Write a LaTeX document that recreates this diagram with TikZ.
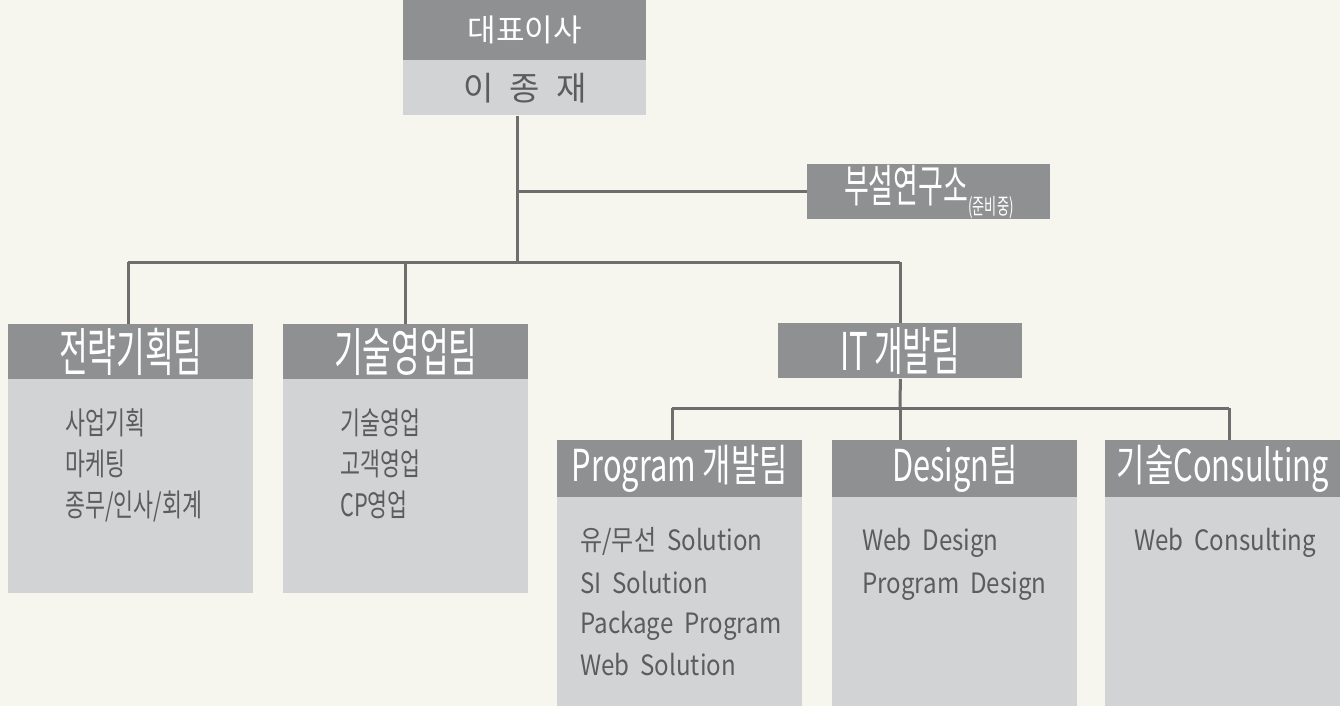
\documentclass[tikz,border=0pt]{standalone}
\usepackage{fontspec}
\newfontfamily\nk{Noto Sans CJK KR}
\newfontfamily\ck[FakeStretch=0.6]{Noto Sans CJK KR}
\newfontfamily\hk[FakeStretch=0.7]{Noto Sans CJK KR}
\newfontfamily\mk[FakeStretch=0.7]{Noto Sans CJK KR}
\newfontfamily\ek[FakeStretch=0.86,WordSpace=2]{Noto Sans CJK KR}
\definecolor{bg}{HTML}{F6F5EE}
\definecolor{hdrgray}{HTML}{8F9092}
\definecolor{bodygray}{HTML}{D2D3D5}
\definecolor{linegray}{HTML}{6E6E6E}
\definecolor{txtgray}{HTML}{5C5C5C}
\tikzset{
  hdrbox/.style={fill=hdrgray, draw=none, inner sep=0pt, anchor=north west, text=white},
  bodybox/.style={fill=bodygray, draw=none, inner sep=0pt, anchor=north west},
  conn/.style={draw=linegray, line width=1.5pt},
  teamtext/.style={font=\ck\fontsize{26pt}{26pt}\selectfont},
  subtext/.style={font=\hk\fontsize{22pt}{22pt}\selectfont},
  kline/.style={anchor=base west, inner sep=0pt, text=txtgray, font=\mk\fontsize{15.5pt}{15.5pt}\selectfont},
  eline/.style={anchor=base west, inner sep=0pt, text=txtgray, font=\ek\fontsize{14pt}{14pt}\selectfont},
}
\begin{document}
\begin{tikzpicture}[x=0.5pt,y=-0.5pt]
\useasboundingbox (0,0) rectangle (1340,706);
\fill[bg] (0,0) rectangle (1340,706);
% CEO
\node[hdrbox, minimum width=121.5pt, minimum height=30pt, font=\nk\fontsize{15.5pt}{15.5pt}\selectfont] (ceoH) at (403,0) {대표이사};
\node[bodybox, minimum width=121.5pt, minimum height=27.5pt, text=txtgray, font=\nk\fontsize{16.5pt}{16.5pt}\selectfont] (ceoB) at (403,60) {이\hspace{8pt}종\hspace{8pt}재};
% research lab
\node[hdrbox, minimum width=121.5pt, minimum height=27.5pt] (lab) at (807,164) {{\ck\fontsize{22.5pt}{22.5pt}\selectfont 부설연구소}\raisebox{-6pt}{\ck\fontsize{11pt}{11pt}\selectfont (준비중)}};
% left teams
\node[hdrbox, minimum width=122.5pt, minimum height=27.5pt, teamtext] (t1H) at (8,324) {전략기획팀};
\node[bodybox, minimum width=122.5pt, minimum height=107pt] (t1B) at (8,379) {};
\node[hdrbox, minimum width=122.5pt, minimum height=27.5pt, teamtext] (t2H) at (283,324) {기술영업팀};
\node[bodybox, minimum width=122.5pt, minimum height=107pt] (t2B) at (283,379) {};
% IT
\node[hdrbox, minimum width=122pt, minimum height=27.5pt] (itH) at (778,323) {{\ck\fontsize{26pt}{26pt}\selectfont IT\hspace{3pt}개발팀}};
% bottom teams
\node[hdrbox, minimum width=122.5pt, minimum height=28.5pt, subtext] (s1H) at (557,440) {Program 개발팀};
\node[bodybox, minimum width=122.5pt, minimum height=104.5pt] (s1B) at (557,497) {};
\node[hdrbox, minimum width=122.5pt, minimum height=28.5pt, subtext] (s2H) at (832,440) {Design팀};
\node[bodybox, minimum width=122.5pt, minimum height=104.5pt] (s2B) at (832,497) {};
\node[hdrbox, minimum width=117.5pt, minimum height=28.5pt, subtext] (s3H) at (1105,440) {기술Consulting};
\node[bodybox, minimum width=117.5pt, minimum height=104.5pt] (s3B) at (1105,497) {};
% body lines
\node[kline] (a1) at (65,434) {사업기획};
\node[kline] (a2) at (65,475) {마케팅};
\node[kline] (a3) at (65,516) {종무/인사/회계};
\node[kline] (b1) at (340,434) {기술영업};
\node[kline] (b2) at (340,475) {고객영업};
\node[kline] (b3) at (340,516) {CP영업};
\node[eline] (p1) at (580,550) {유/무선 Solution};
\node[eline] (p2) at (580,593) {SI Solution};
\node[eline] (p3) at (580,633) {Package Program};
\node[eline] (p4) at (580,675) {Web Solution};
\node[eline] (d1) at (862,550) {Web Design};
\node[eline] (d2) at (862,593) {Program Design};
\node[eline] (c1) at (1134,550) {Web Consulting};
% junction coordinates
\coordinate (j1) at (517,262);
\coordinate (j2) at (900,408);
% connectors
\draw[conn] (ceoB.south -| j1) -- (j1);
\draw[conn] (lab.west -| j1) -- (lab.west);
\draw[conn] (j1 -| t1H.north) ++(-2.5,0) coordinate (l1) -- (j1 -| itH.north) coordinate (r1);
\draw[conn] (l1) -- (l1 |- t1H.north);
\draw[conn] (j1 -| t2H.north) -- (t2H.north);
\draw[conn] (r1) -- (itH.north);
\draw[conn] (itH.south) -- (j2);
\coordinate (l2) at (672,408);
\coordinate (r2) at (1229,408);
\draw[conn] (l2) -- (r2);
\draw[conn] (l2) -- (l2 |- s1H.north);
\draw[conn] (j2) -- (j2 |- s2H.north);
\draw[conn] (r2) -- (r2 |- s3H.north);
\end{tikzpicture}
\end{document}
